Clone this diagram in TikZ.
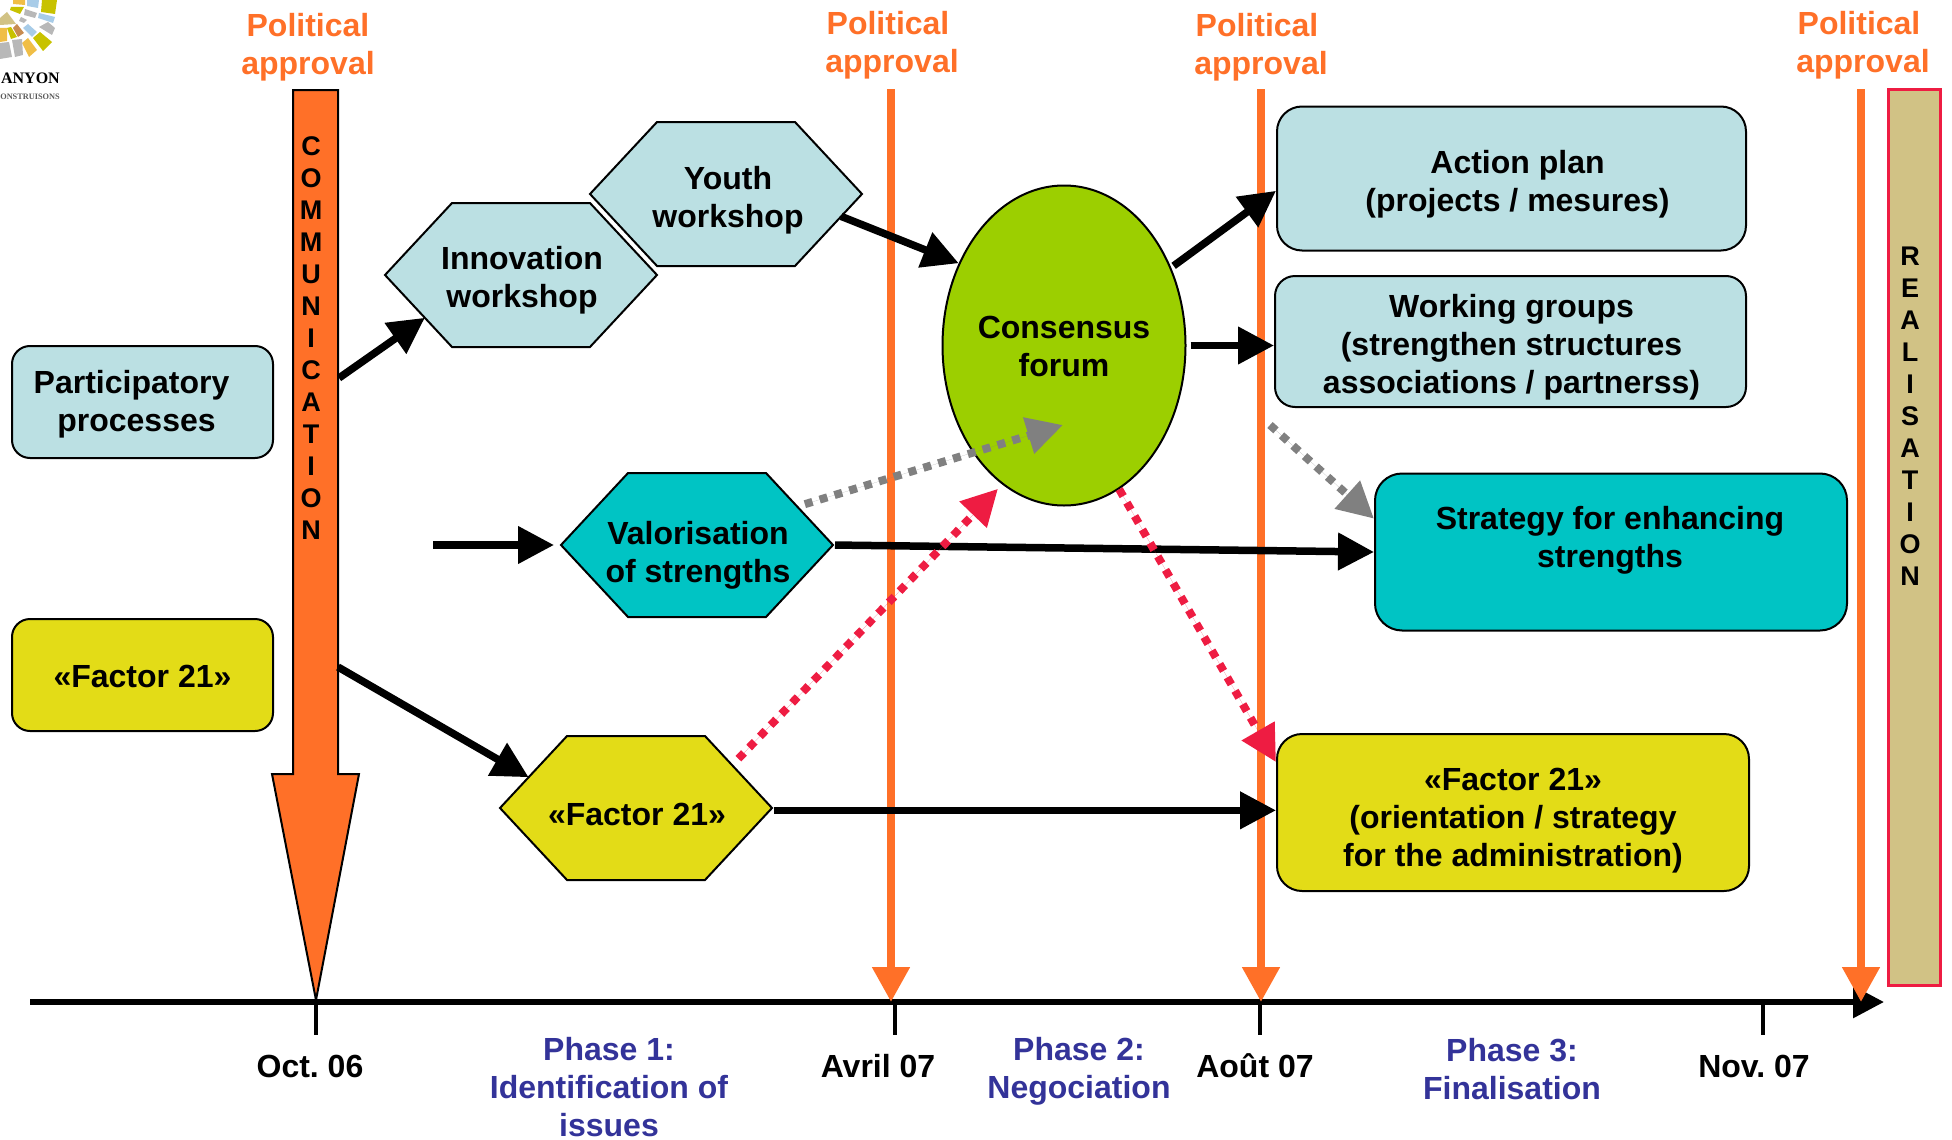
\documentclass[tikz,border=0pt]{standalone}
\usepackage{fontspec}
\setmainfont{Liberation Sans}
\newfontfamily\logofont{Liberation Serif}
\frenchspacing
\usetikzlibrary{shapes.geometric}
\usetikzlibrary{shapes.symbols}
\usetikzlibrary{arrows.meta}
\definecolor{Pale-1}{RGB}{187,224,227}
\definecolor{Teal-1}{RGB}{0,196,196}
\definecolor{Lemon-1}{RGB}{227,220,23}
\definecolor{Lime-1}{RGB}{156,207,0}
\definecolor{Orange-1}{RGB}{255,112,40}
\definecolor{Blue-1}{RGB}{51,51,153}
\definecolor{Red-1}{RGB}{238,28,66}
\definecolor{Sand-1}{RGB}{209,194,133}
\definecolor{Logo-o}{RGB}{240,190,70}
\definecolor{Logo-b}{RGB}{168,204,232}
\definecolor{Logo-y}{RGB}{200,194,0}
\definecolor{Logo-g}{RGB}{184,184,184}
\definecolor{Logo-t}{RGB}{200,140,80}
\tikzset{
  txt/.style={font=\fontsize{32}{38}\bfseries\selectfont, align=center, inner sep=0pt},
  letters/.style={font=\fontsize{27}{32}\bfseries\selectfont, align=center, inner sep=0pt},
  hexa/.style={draw, line width=2pt, shape=signal, signal to=west and east, signal pointer angle=94.1, minimum width=272pt, minimum height=144pt, inner sep=0pt, outer sep=0pt},
  panel/.style={draw, line width=2pt, inner sep=0pt},
  flow/.style={line width=7.5pt, -{Triangle[length=36pt,width=36pt]}},
  dots/.style={line width=8pt, dash pattern=on 8pt off 7.5pt, -{Triangle[length=36pt,width=36pt]}},
  appr/.style={line width=8pt, draw=Orange-1, -{Triangle[length=35pt,width=36pt]}},
  tick/.style={line width=4pt}
}
\begin{document}
\begin{tikzpicture}[x=1pt,y=-1pt]
    \useasboundingbox (0,0) rectangle (1952,1140);

    % logo
    \fill[Logo-y] (42,0) -- (57,0) -- (55,14) -- (41,12) -- cycle;
    \fill[Logo-b] (27,0) -- (39,0) -- (38,8) -- (27,6) -- cycle;
    \fill[Logo-o] (13,0) -- (25,0) -- (25,5) -- (13,4) -- cycle;
    \fill[Logo-g] (25,9) -- (37,13) -- (35,18) -- (24,15) -- cycle;
    \fill[Logo-b] (39,13) -- (55,17) -- (53,23) -- (38,18) -- cycle;
    \fill[Logo-y] (11,7) -- (24,7) -- (20,14) -- (10,10) -- cycle;
    \fill[Sand-1] (7,12) -- (16,24) -- (0,25) -- (0,18) -- cycle;
    \fill[Logo-g] (21,17) -- (27,20) -- (24,23) -- (19,21) -- cycle;
    \fill[Logo-g] (48,22) -- (55,28) -- (52,35) -- (39,27) -- cycle;
    \fill[Logo-b] (28,24) -- (37,32) -- (32,37) -- (23,28) -- cycle;
    \fill[Logo-t] (17,24) -- (24,33) -- (18,37) -- (13,28) -- cycle;
    \fill[Logo-y] (40,32) -- (52,42) -- (43,51) -- (33,38) -- cycle;
    \fill[Logo-y] (11,27) -- (17,37) -- (11,39) -- (7,28) -- cycle;
    \fill[Logo-o] (0,28) -- (7,28) -- (7,41) -- (0,42) -- cycle;
    \fill[Logo-o] (28,38) -- (37,50) -- (29,57) -- (22,43) -- cycle;
    \fill[Logo-g] (12,40) -- (22,39) -- (23,55) -- (15,57) -- cycle;
    \fill[Logo-g] (0,43) -- (9,42) -- (12,57) -- (0,59) -- cycle;
    \node[font=\logofont\fontsize{16}{16}\bfseries\selectfont, inner sep=0pt, anchor=east] (logoname) at (60,78) {ANYON};
    \node[font=\logofont\fontsize{8.3}{9}\bfseries\selectfont, inner sep=0pt, anchor=east, text=gray!70!black] (logoline) at (60,97) {ONSTRUISONS};

    % time axis
    \coordinate (axstart) at (30,1002);
    \coordinate (axend)   at (1884,1002);
    \coordinate (t1) at (316,1002);
    \coordinate (t2) at (895,1002);
    \coordinate (t3) at (1260,1002);
    \coordinate (t4) at (1763,1002);
    \draw[line width=6pt, -{Triangle[length=31pt,width=31pt]}] (axstart) -- (axend);
    \draw[tick] (t1) -- ++(0,33);
    \draw[tick] (t2) -- ++(0,33);
    \draw[tick] (t3) -- ++(0,33);
    \draw[tick] (t4) -- ++(0,33);

    \node[txt] (oct)  at ( 310,1066) {Oct. 06};
    \node[txt] (avr)  at ( 878,1066) {Avril 07};
    \node[txt] (aou)  at (1255,1066) {Août 07};
    \node[txt] (nov)  at (1754,1066) {Nov. 07};
    \node[txt, text=Blue-1] (ph1) at ( 609,1087) {Phase 1:\\Identification of\\issues};
    \node[txt, text=Blue-1] (ph2) at (1079,1071) {Phase 2:\\Negociation};
    \node[txt, text=Blue-1] (ph3) at (1512,1069) {Phase 3:\\Finalisation};

    % approvals
    \node[txt, text=Orange-1] (pol1) at ( 308,47) {Political\\approval};
    \node[txt, text=Orange-1] (pol2) at ( 892,45) {Political\hspace{8pt}\mbox{}\\approval};
    \node[txt, text=Orange-1] (pol3) at (1261,47) {Political\hspace{8pt}\mbox{}\\approval};
    \node[txt, text=Orange-1] (pol4) at (1863,45) {Political\hspace{8pt}\mbox{}\\approval};
    \coordinate (a2) at (891,89);
    \coordinate (a3) at (1261,89);
    \coordinate (a4) at (1861,89);
    \draw[appr] (a2) -- (a2 |- axstart);
    \draw[appr] (a3) -- (a3 |- axstart);
    \draw[appr] (a4) -- (a4 |- axstart);

    % communication arrow and realisation bar
    \draw[line width=2pt, fill=Orange-1] (293,90) -- (338,90) -- (338,774) -- (359,774) -- (316,1000) -- (272,774) -- (293,774) -- cycle;
    \node[letters] (comm) at (311,338) {C\\O\\M\\M\\U\\N\\I\\C\\A\\T\\I\\O\\N};
    \node[draw=Red-1, line width=2.5pt, fill=Sand-1, minimum width=52pt, minimum height=896pt, inner sep=0pt] (bar) at (1914.5,537.5) {};
    \node[letters] (real) at (1910,416) {R\\E\\A\\L\\I\\S\\A\\T\\I\\O\\N};

    % boxes
    \node[panel, fill=Pale-1,  rounded corners=18pt, minimum width=261pt, minimum height=112pt, label={[txt, yshift=-2pt]center:Participatory\hspace{22pt}\mbox{}\\processes\hspace{12pt}\mbox{}}] (part) at (142.5,402) {};
    \node[panel, fill=Lemon-1, rounded corners=18pt, minimum width=261pt, minimum height=112pt, label={[txt, yshift=-1pt]center:«Factor 21»}] (fleft) at (142.5,675) {};
    \node[panel, fill=Pale-1,  rounded corners=25pt, minimum width=469pt, minimum height=144pt, label={[txt, xshift=6pt, yshift=-6pt]center:Action plan\\(projects / mesures)}] (action) at (1511.5,178.5) {};
    \node[panel, fill=Pale-1,  rounded corners=20pt, minimum width=471pt, minimum height=131pt, label={[txt, xshift=1pt, yshift=-6pt]center:Working groups\\(strengthen structures\\associations / partnerss)}] (working) at (1510.5,341.5) {};
    \node[panel, fill=Teal-1,  rounded corners=27pt, minimum width=472pt, minimum height=157pt, label={[txt, xshift=-1pt, yshift=12pt]center:Strategy for enhancing\\strengths}] (strat) at (1611,552) {};
    \node[panel, fill=Lemon-1, rounded corners=25pt, minimum width=472pt, minimum height=157pt, label={[txt, yshift=-8pt]center:«Factor 21»\\(orientation / strategy\\for the administration)}] (fbot) at (1513,812.5) {};

    \node[hexa, fill=Pale-1,  label={[txt, xshift=1pt, yshift=-5pt]center:Innovation\\workshop}] (inno) at (521,275) {};
    \node[hexa, fill=Pale-1,  label={[txt, xshift=2pt, yshift=-6pt]center:Youth\\workshop}] (youth) at (726,194) {};
    \node[hexa, fill=Teal-1,  label={[txt, xshift=1pt, yshift=-10pt]center:Valorisation\\of strengths}] (val) at (697,545) {};
    \node[hexa, fill=Lemon-1, label={[txt, xshift=1pt, yshift=-6pt]center:«Factor 21»}] (fhex) at (636,808) {};
    \node[panel, fill=Lime-1, shape=ellipse, minimum width=243pt, minimum height=320pt, label={[txt, yshift=-1pt]center:Consensus\\forum}] (forum) at (1064,345.5) {};

    % links
    \coordinate (comma)   at (339,378);
    \coordinate (commb)   at (338,667);
    \coordinate (valin)   at (433,545);
    \coordinate (forumin) at (1063,425);
    \coordinate (workout) at (1270,425);

    \draw[flow] (comma) -- (inno.204);
    \draw[flow] (commb) -- (fhex.164);
    \draw[flow, shorten >=7pt] (valin) -- (val.west);
    \draw[flow] (youth.-11) -- (forum.142.5);
    \draw[flow, shorten <=3pt] (forum.36) -- (action.183);
    \draw[flow, shorten <=4pt] (forum.east) -- (forum.east -| working.west);
    \draw[flow, shorten <=2pt] (val.east) -- (strat.west);
    \draw[flow, shorten <=4pt] (fhex.-1) -- (fhex.-1 -| fbot.west);

    \draw[dots, draw=gray, fill=gray, shorten <=8pt] (val.21) -- (forumin);
    \draw[dots, draw=gray, fill=gray] (workout) -- (strat.172);
    \draw[dots, draw=Red-1, fill=Red-1, shorten <=9pt, shorten >=6pt] (fhex.24) -- (forum.246);
    \draw[dots, draw=Red-1, fill=Red-1] (forum.291) -- (fbot.168);
  \end{tikzpicture}
\end{document}
